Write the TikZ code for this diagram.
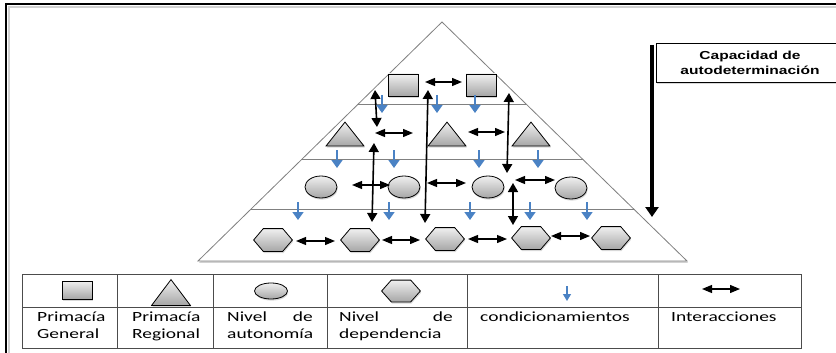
\documentclass[tikz,border=0pt]{standalone}
\usepackage{fontspec}
\setmainfont{Carlito}
\newfontfamily\boxfont{Liberation Sans}
\usepackage{graphicx}
\usetikzlibrary{arrows.meta,shadows,shapes.geometric}
\definecolor{condblue}{HTML}{4A82C4}
\newcommand\widetxt[1]{\scalebox{1.39}[1]{#1}}
\newcommand\widebox[1]{\scalebox{1.34}[1]{#1}}
\makeatletter
\pgfdeclareshape{hexa}{%
  \inheritsavedanchors[from=rectangle]%
  \inheritanchorborder[from=rectangle]%
  \inheritanchor[from=rectangle]{center}%
  \inheritanchor[from=rectangle]{north}%
  \inheritanchor[from=rectangle]{south}%
  \inheritanchor[from=rectangle]{east}%
  \inheritanchor[from=rectangle]{west}%
  \backgroundpath{%
    \southwest \pgf@xa=\pgf@x \pgf@ya=\pgf@y
    \northeast \pgf@xb=\pgf@x \pgf@yb=\pgf@y
    \pgf@xc=\pgf@xb \advance\pgf@xc by -\pgf@xa
    \pgf@xc=0.25\pgf@xc
    \pgf@yc=\pgf@yb \advance\pgf@yc by \pgf@ya
    \pgf@yc=0.5\pgf@yc
    \edef\hx@a{\the\pgf@xa}\edef\hx@b{\the\pgf@xb}%
    \edef\hx@c{\the\dimexpr\pgf@xa+\pgf@xc\relax}%
    \edef\hx@d{\the\dimexpr\pgf@xb-\pgf@xc\relax}%
    \edef\hy@a{\the\pgf@ya}\edef\hy@b{\the\pgf@yb}\edef\hy@m{\the\pgf@yc}%
    \pgfpathmoveto{\pgfqpoint{\hx@a}{\hy@m}}%
    \pgfpathlineto{\pgfqpoint{\hx@c}{\hy@a}}%
    \pgfpathlineto{\pgfqpoint{\hx@d}{\hy@a}}%
    \pgfpathlineto{\pgfqpoint{\hx@b}{\hy@m}}%
    \pgfpathlineto{\pgfqpoint{\hx@d}{\hy@b}}%
    \pgfpathlineto{\pgfqpoint{\hx@c}{\hy@b}}%
    \pgfpathclose
  }%
}
\pgfdeclareshape{tria}{%
  \inheritsavedanchors[from=rectangle]%
  \inheritanchorborder[from=rectangle]%
  \inheritanchor[from=rectangle]{center}%
  \inheritanchor[from=rectangle]{north}%
  \inheritanchor[from=rectangle]{south}%
  \inheritanchor[from=rectangle]{east}%
  \inheritanchor[from=rectangle]{west}%
  \backgroundpath{%
    \southwest \pgf@xa=\pgf@x \pgf@ya=\pgf@y
    \northeast \pgf@xb=\pgf@x \pgf@yb=\pgf@y
    \pgf@xc=\pgf@xb \advance\pgf@xc by \pgf@xa
    \pgf@xc=0.5\pgf@xc
    \edef\tr@a{\the\pgf@xa}\edef\tr@b{\the\pgf@xb}\edef\tr@c{\the\pgf@xc}%
    \edef\tr@ya{\the\pgf@ya}\edef\tr@yb{\the\pgf@yb}%
    \pgfpathmoveto{\pgfqpoint{\tr@a}{\tr@ya}}%
    \pgfpathlineto{\pgfqpoint{\tr@b}{\tr@ya}}%
    \pgfpathlineto{\pgfqpoint{\tr@c}{\tr@yb}}%
    \pgfpathclose
  }%
}
\makeatother
\tikzset{
  shp/.style={draw=black, line width=0.8pt, top color=black!6, bottom color=black!35,
    inner sep=0pt, drop shadow={opacity=0.3, shadow xshift=0.8pt, shadow yshift=-1.6pt}},
  sq/.style={shp, rectangle, minimum width=30pt, minimum height=22pt},
  tri/.style={shp, tria, minimum width=37pt, minimum height=23pt},
  ell/.style={shp, ellipse, minimum width=32pt, minimum height=22pt},
  hex/.style={shp, hexa, minimum width=38pt, minimum height=22pt},
  inter/.style={line width=1.2pt, {Triangle[length=10pt,width=8pt]}-{Triangle[length=10pt,width=8pt]}},
  vert/.style={line width=1.6pt, {Triangle[length=9pt,width=10pt]}-{Triangle[length=9pt,width=10pt]}},
  cond/.style={draw=condblue, line width=1.5pt, -{Triangle[length=8pt,width=11pt]}},
  bigarrow/.style={line width=3.4pt, -{Triangle[length=10pt,width=13pt]}},
  pyr/.style={draw=black!50, line width=0.8pt},
  tbl/.style={draw=black!70, line width=0.8pt},
  lbl/.style={inner sep=0pt, font=\fontsize{14}{17}\selectfont},
}
\begin{document}
\begin{tikzpicture}[x=1pt,y=-1pt]
\useasboundingbox (0,0) rectangle (836,353);
\clip (0,0) rectangle (836,353);
\fill[white] (0,0) rectangle (836,353);
% outer frame
\draw[black!18, line width=2.5pt] (8.8,360) -- (8.8,6.8) -- (845,6.8);
\draw[line width=1.4pt] (6,360) -- (6,4) -- (845,4);
% pyramid
\draw[pyr, fill=white, drop shadow={opacity=0.35, shadow xshift=1pt, shadow yshift=-1.8pt}]
  (442,22) -- (198,261) -- (687,261) -- cycle;
\begin{scope}
  \clip (442,22) -- (198,261) -- (687,261) -- cycle;
  \draw[pyr] (180,104) -- (700,104);
  \draw[pyr] (180,159) -- (700,159);
  \draw[pyr] (180,209) -- (700,209);
\end{scope}
% capacidad box
\node[draw=black, line width=0.9pt, fill=white, inner sep=0pt,
  drop shadow={opacity=0.3, shadow xshift=1pt, shadow yshift=-1.5pt},
  minimum width=180pt, minimum height=39pt, anchor=north west] (capbox) at (656,43) {};
\node[inner sep=0pt, anchor=base, font=\boxfont\bfseries\fontsize{11.6}{15}\selectfont] (cap1) at (750,60) {\widebox{Capacidad de}};
\node[inner sep=0pt, anchor=base, font=\boxfont\bfseries\fontsize{11.6}{15}\selectfont] (cap2) at (750,75) {\widebox{autodeterminación}};
\coordinate (ta) at (652,45);
\coordinate (tb) at (652,217);
\draw[bigarrow] (ta) -- (tb);
% shapes
\node[sq] (s1) at (403,85) {};
\node[sq] (s2) at (481,85) {};
\node[tri] (r1) at (345,134) {};
\node[tri] (r2) at (447,134) {};
\node[tri] (r3) at (531,134) {};
\node[ell] (c1) at (321,187) {};
\node[ell] (c2) at (404,187) {};
\node[ell] (c3) at (488,187) {};
\node[ell] (c4) at (571,188) {};
\node[hex] (x1) at (273,240) {};
\node[hex] (x2) at (360,240) {};
\node[hex] (x3) at (445,239) {};
\node[hex] (x4) at (531,238) {};
\node[hex] (x5) at (611,238) {};
% horizontal interaction arrows
\foreach \n/\xa/\xb/\y in {1/425/462/82, 2/375/413/133, 3/468/505/132, 4/352/390/185,
  5/427/466/183, 6/515/555/180, 7/296/335/241, 8/382/420/240, 9/468/507/239, 10/551/590/236}{
  \coordinate (ha\n) at (\xa,\y);
  \coordinate (hb\n) at (\xb,\y);
  \draw[inter] (ha\n) -- (hb\n);
}
% vertical interaction arrows
\foreach \n/\xa/\ya/\xb/\yb in {1/375/90/377/127, 2/374/143/372/222, 3/428/90/425/223,
  4/509/93/507/173, 5/513/183/513/225}{
  \coordinate (va\n) at (\xa,\ya);
  \coordinate (vb\n) at (\xb,\yb);
  \draw[vert] (va\n) -- (vb\n);
}
% condicionamientos
\foreach \n/\x/\y in {1/382/95, 2/437/95, 3/475/95, 4/337/150, 5/394/150, 6/479/150, 7/538/150,
  8/298/202, 9/389/202, 10/470/202, 11/530/202, 12/587/202}{
  \coordinate (ba\n) at (\x,\y);
  \coordinate (bb\n) at (\x,\y+18);
  \draw[cond] (ba\n) -- (bb\n);
}
% legend table
\draw[tbl] (22,274) rectangle (801,348);
\draw[tbl] (22,307) -- (801,307);
\foreach \x in {117,213,327,467,658}{ \draw[tbl] (\x,274) -- (\x,348); }
\node[sq, minimum width=30pt, minimum height=18pt] (lsq) at (77,290) {};
\node[tri, minimum width=38pt, minimum height=25pt] (ltri) at (171,292.5) {};
\node[ell, minimum width=33pt, minimum height=16pt] (lell) at (271,291) {};
\node[hex, minimum width=38pt, minimum height=21pt] (lhex) at (401,291) {};
\coordinate (lba) at (567,286);
\coordinate (lbb) at (567,301);
\draw[cond, line width=1.2pt, -{Triangle[length=7pt,width=8pt]}] (lba) -- (lbb);
\coordinate (lha) at (702,289);
\coordinate (lhb) at (740,289);
\draw[inter] (lha) -- (lhb);
% legend texts
\node[lbl, anchor=base west] (t1a) at (37,321) {\widetxt{Primacía}};
\node[lbl, anchor=base west] (t1b) at (37,338) {\widetxt{General}};
\node[lbl, anchor=base west] (t2a) at (132,321) {\widetxt{Primacía}};
\node[lbl, anchor=base west] (t2b) at (132,338) {\widetxt{Regional}};
\node[lbl, anchor=base west] (t3a) at (227,321) {\widetxt{Nivel}};
\node[lbl, anchor=base east] (t3b) at (313,321) {\widetxt{de}};
\node[lbl, anchor=base west] (t3c) at (227,338) {\widetxt{autonomía}};
\node[lbl, anchor=base west] (t4a) at (339,321) {\widetxt{Nivel}};
\node[lbl, anchor=base east] (t4b) at (453,321) {\widetxt{de}};
\node[lbl, anchor=base west] (t4c) at (339,338) {\widetxt{dependencia}};
\node[lbl, anchor=base west] (t5) at (480,321) {\widetxt{condicionamientos}};
\node[lbl, anchor=base west] (t6) at (671,321) {\widetxt{Interacciones}};
\end{tikzpicture}
\end{document}
